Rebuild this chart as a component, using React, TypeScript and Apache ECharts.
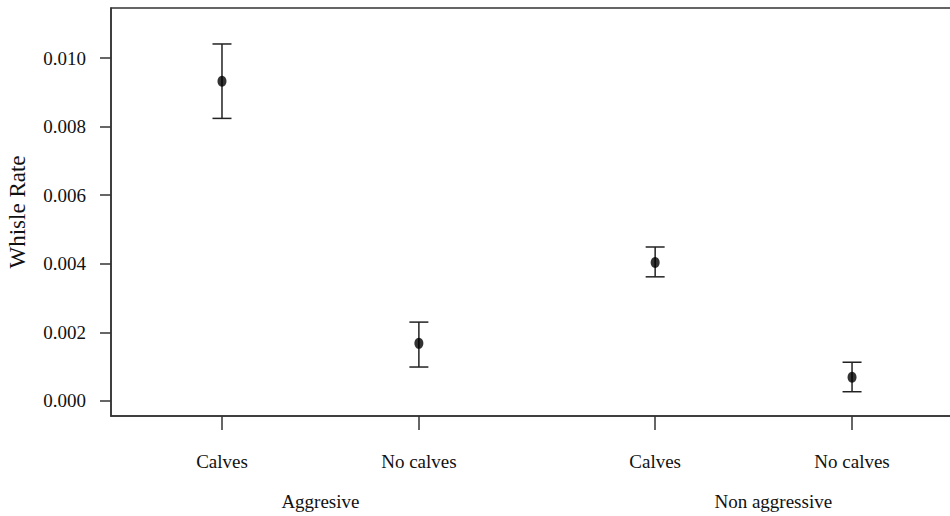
import React, { useEffect, useRef } from "react";
import * as echarts from "echarts";

const categories = ["Calves", "No calves", "Calves", "No calves"];
const xPositions = [1, 2, 3.2, 4.2];
const groupLabels = ["Aggresive", "Non aggressive"];
const groupPositions = [1.5, 3.8];
const means = [0.00932, 0.00168, 0.00404, 0.00069];
const upper = [0.01041, 0.0023, 0.00449, 0.00113];
const lower = [0.00824, 0.00099, 0.00362, 0.00027];
const yTicks = [0, 0.002, 0.004, 0.006, 0.008, 0.01];

const FONT = "Liberation Serif";
const INK = "#222";
const X_MIN = 0.4363;
const X_MAX = 4.728;

export default function App() {
  const ref = useRef<HTMLDivElement>(null);
  useEffect(() => {
    document.body.style.margin = "0";
    const chart = echarts.init(ref.current!, null, { renderer: "svg" });
    const pointData = xPositions.map((x, i) => [x, means[i]]);
    const barData = xPositions.map((x, i) => [x, lower[i], upper[i]]);
    chart.setOption({
      animation: false,
      backgroundColor: "#fff",
      grid: {
        left: 111,
        top: 8,
        width: 845,
        bottom: 100,
        show: true,
        containLabel: false,
        outerBoundsMode: "none",
        borderColor: "#333",
        borderWidth: 1.5,
      },
      xAxis: [
        {
          type: "value",
          min: X_MIN,
          max: X_MAX,
          position: "bottom",
          splitLine: { show: false },
          axisLine: { show: true, onZero: false, lineStyle: { color: "#333", width: 1.5 } },
          axisTick: {
            show: true,
            length: 14,
            customValues: xPositions,
            lineStyle: { color: "#333", width: 1.5 },
          },
          axisLabel: {
            customValues: xPositions,
            margin: 36,
            fontFamily: FONT,
            fontSize: 19,
            color: "#111",
            formatter: (v: number) => {
              const i = xPositions.findIndex((p) => Math.abs(p - v) < 1e-6);
              return i >= 0 ? categories[i] : "";
            },
          },
        },
        {
          type: "value",
          min: X_MIN,
          max: X_MAX,
          position: "bottom",
          splitLine: { show: false },
          axisLine: { show: false },
          axisTick: { show: false },
          axisLabel: {
            customValues: groupPositions,
            margin: 76,
            fontFamily: FONT,
            fontSize: 19,
            color: "#111",
            formatter: (v: number) => {
              const i = groupPositions.findIndex((p) => Math.abs(p - v) < 1e-6);
              return i >= 0 ? groupLabels[i] : "";
            },
          },
        },
      ],
      yAxis: {
        type: "value",
        min: -0.000438,
        max: 0.011459,
        name: "Whisle Rate",
        nameLocation: "middle",
        nameGap: 82,
        nameTextStyle: { fontFamily: FONT, fontSize: 23, color: "#111" },
        splitLine: { show: false },
        axisLine: { show: true, onZero: false, lineStyle: { color: "#333", width: 1.5 } },
        axisTick: {
          show: true,
          length: 11,
          customValues: yTicks,
          lineStyle: { color: "#333", width: 1.5 },
        },
        axisLabel: {
          customValues: yTicks,
          margin: 25,
          fontFamily: FONT,
          fontSize: 19,
          color: "#111",
          formatter: (v: number) => v.toFixed(3),
        },
      },
      series: [
        {
          type: "custom",
          xAxisIndex: 0,
          data: barData,
          encode: { x: 0, y: [1, 2] },
          renderItem: (params: any, api: any) => {
            const x = api.value(0);
            const lo = api.coord([x, api.value(1)]);
            const hi = api.coord([x, api.value(2)]);
            const hw = 9.5;
            const style = { stroke: INK, lineWidth: 1.5 };
            return {
              type: "group",
              children: [
                { type: "line", shape: { x1: lo[0], y1: lo[1], x2: hi[0], y2: hi[1] }, style },
                { type: "line", shape: { x1: hi[0] - hw, y1: hi[1], x2: hi[0] + hw, y2: hi[1] }, style },
                { type: "line", shape: { x1: lo[0] - hw, y1: lo[1], x2: lo[0] + hw, y2: lo[1] }, style },
              ],
            };
          },
          z: 2,
        },
        {
          type: "scatter",
          xAxisIndex: 0,
          data: pointData,
          symbol: "circle",
          symbolSize: [9, 11],
          itemStyle: { color: "#000" },
          z: 3,
        },
      ],
    });
    return () => chart.dispose();
  }, []);
  return <div ref={ref} style={{ width: 950, height: 516 }} />;
}
